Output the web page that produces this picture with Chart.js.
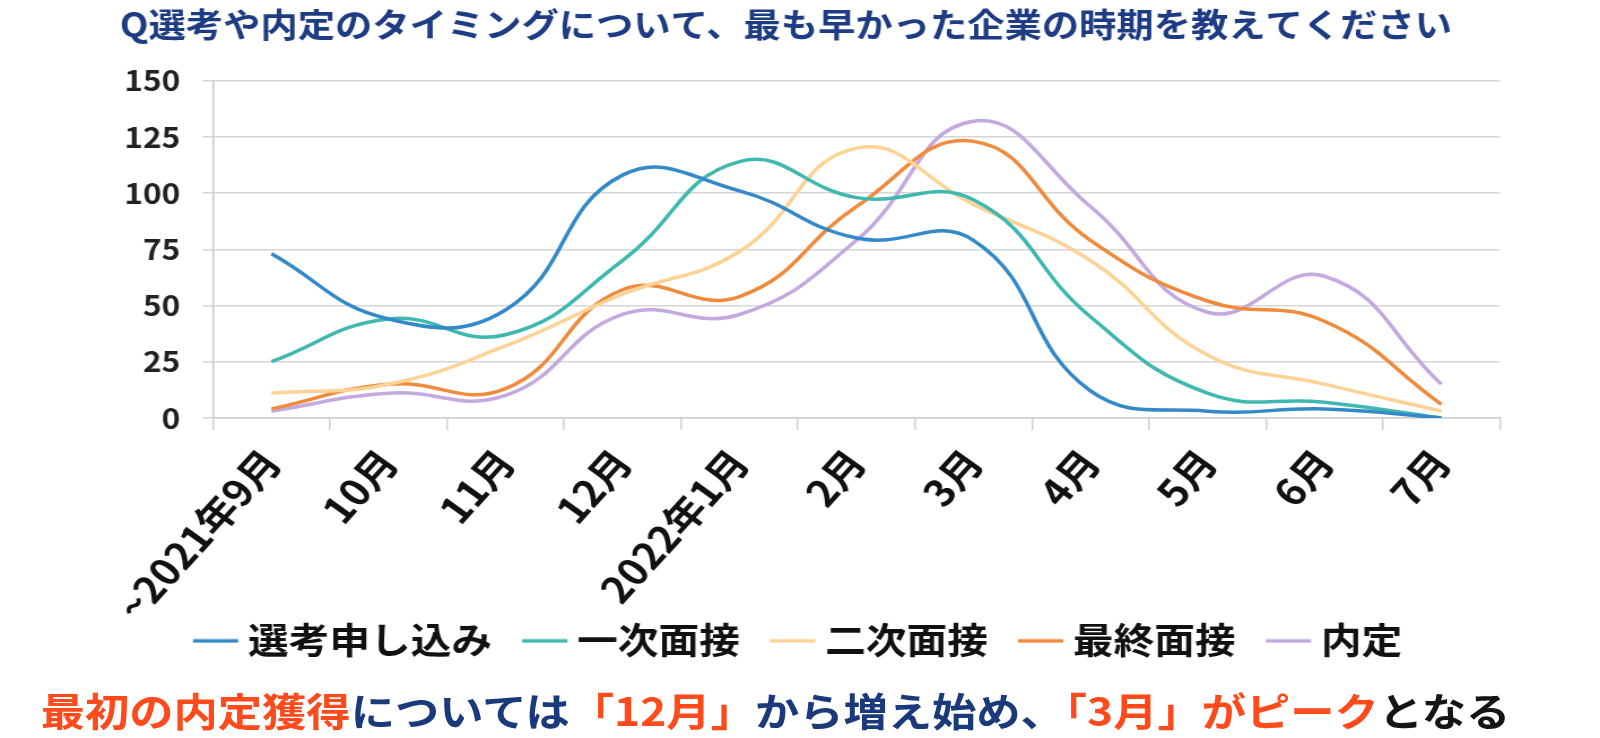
<!DOCTYPE html>
<html lang="ja">
<head>
<meta charset="utf-8">
<script src="https://cdn.jsdelivr.net/npm/chart.js@4"></script>
<style>
  html, body { margin: 0; padding: 0; background: #fff; overflow: hidden; }
  /* the source picture is a bit stretched sideways, so the whole sheet is drawn narrow and scaled */
  #wrap { position: relative; width: 1416px; height: 738px; transform: scaleX(1.12994); transform-origin: 0 0; }
  #note {
    position: absolute; left: 36px; top: 690px;
    font: bold 39.2px "Noto Sans CJK JP", sans-serif; line-height: 39px;
    white-space: nowrap; color: #1b3a7c;
  }
  #note .hot { color: #ff4a1c; }
  #note .dark { color: #151515; }
</style>
</head>
<body>
<div id="wrap">
  <canvas id="lineGraph" width="1416" height="680"></canvas>
  <div id="note"><span class="hot">最初の内定獲得</span>については<span class="hot">「12月」</span>から増え始め、<span class="hot">「3月」がピーク</span><span class="dark">となる</span></div>
</div>
<script>
var months = ['~2021年9月', '10月', '11月', '12月', '2022年1月', '2月', '3月', '4月', '5月', '6月', '7月'];
var yTicks = [0, 25, 50, 75, 100, 125, 150];

// number of answers per month
var entry     = [73, 44, 48, 108, 101, 80, 79, 12, 3, 4, 0];   // 選考申し込み
var firstInt  = [25, 44, 37, 70, 114, 98, 97, 45, 11, 7, 0];   // 一次面接
var secondInt = [11, 15, 32, 55, 74, 120, 95, 70, 28, 15, 3];  // 二次面接
var finalInt  = [4, 15, 13, 57, 54, 94, 123, 79, 52, 43, 6];   // 最終面接
var offer     = [3, 11, 10, 46, 46, 79, 132, 94, 47, 63, 15];  // 内定

var font = '"Noto Sans CJK JP", sans-serif';

// legend mark: short line sitting close to the label text
function legendMark(color) {
    var c = document.createElement('canvas');
    c.width = 80;
    c.height = 6;
    var g = c.getContext('2d');
    g.fillStyle = color;
    g.fillRect(35, 1.5, 40, 3.5);
    return c;
}

function series(label, data, color) {
    return {
        label: label,
        data: data,
        borderColor: color,
        backgroundColor: color,
        borderWidth: 3.5,
        pointRadius: 0,
        pointStyle: legendMark(color),
        tension: 0.45,
        fill: false
    };
}

var ctx = document.getElementById('lineGraph').getContext('2d');

var myLineChart = new Chart(ctx, {
    type: 'line',
    data: {
        labels: months,
        datasets: [
            series('選考申し込み', entry, '#3489c9'),
            series('一次面接', firstInt, '#3fb8b0'),
            series('二次面接', secondInt, '#fdd295'),
            series('最終面接', finalInt, '#f08a3c'),
            series('内定', offer, '#c4a9e0')
        ]
    },
    options: {
        responsive: false,
        animation: false,
        layout: { padding: { left: 0, right: 25, top: 0, bottom: 11.4 } },
        plugins: {
            title: {
                display: true,
                text: 'Q選考や内定のタイミングについて、最も早かった企業の時期を教えてください',
                color: '#1d3c84',
                font: { family: font, size: 33, weight: 'bold' },
                padding: { top: 5, bottom: 36.1 }
            },
            legend: {
                position: 'bottom',
                labels: {
                    color: '#111',
                    font: { family: font, size: 36, weight: 'bold' },
                    usePointStyle: true,
                    pointStyleWidth: 51.4,
                    padding: 6
                }
            },
            tooltip: { enabled: false }
        },
        scales: {
            x: {
                offset: true,
                grid: { offset: true, drawOnChartArea: false, drawTicks: true, tickLength: 12, color: '#cfcfcf', lineWidth: 1.5 },
                border: { color: '#cfcfcf', width: 1.5 },
                ticks: {
                    autoSkip: false,
                    minRotation: 51,
                    maxRotation: 51,
                    padding: 11,
                    color: '#111',
                    font: { family: font, size: 37, weight: 'bold' }
                },
                // labels are clipped to this box, so it reaches down to the legend
                afterFit: function (scale) { scale.height = 198.7; }
            },
            y: {
                min: 0,
                max: 150,
                afterBuildTicks: function (scale) {
                    scale.ticks = yTicks.map(function (v) { return { value: v }; });
                },
                grid: { color: '#d6d6d6', lineWidth: 1.5, tickLength: 9 },
                border: { color: '#cccccc', width: 1.5 },
                ticks: {
                    padding: 20,
                    color: '#222',
                    font: { family: font, size: 28, weight: 'bold' }
                },
                afterFit: function (scale) { scale.width = 188.5; }
            },
            // empty right-hand axis: only keeps the plot's right edge where the picture has it
            spacer: {
                position: 'right',
                display: true,
                grid: { display: false },
                border: { display: false },
                ticks: { display: false },
                afterFit: function (scale) { scale.width = 63.6; }
            }
        }
    }
});
</script>
</body>
</html>
